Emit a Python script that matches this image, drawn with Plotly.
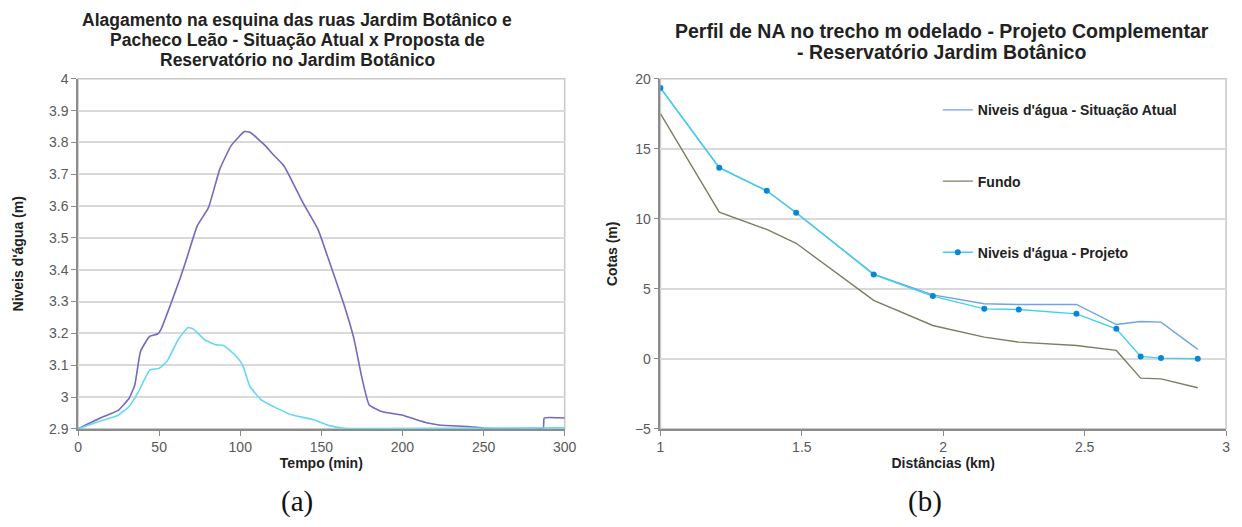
import plotly.graph_objects as go

# ---- Chart (a) data ----
t_atual = [0, 15, 24.5, 31.5, 35, 38.5, 44, 49, 51, 57, 63, 67.6, 73.4, 80.4, 87.4, 94.4,
           102.6, 106, 115.4, 121, 127, 138.7, 148, 153.8, 164, 170, 175, 179.5, 187.6,
           199, 206, 215.6, 222.6, 246, 250, 286.7, 287.4, 300]
v_atual = [2.9, 2.937, 2.957, 2.996, 3.038, 3.143, 3.19, 3.198, 3.211, 3.29, 3.374, 3.445,
           3.537, 3.595, 3.716, 3.79, 3.834, 3.832, 3.79, 3.758, 3.726, 3.61, 3.526, 3.442,
           3.29, 3.185, 3.06, 2.975, 2.954, 2.944, 2.933, 2.918, 2.912, 2.905, 2.902,
           2.902, 2.934, 2.934]
t_proposta = [0, 12.8, 24.5, 31.5, 37.3, 44.3, 50, 54.8, 61.7, 67.6, 71, 78, 85, 89.7, 96.7,
              101.4, 106, 113, 122.4, 131.7, 145.7, 155, 164, 180, 300]
v_proposta = [2.9, 2.923, 2.942, 2.97, 3.017, 3.085, 3.09, 3.112, 3.18, 3.218, 3.214, 3.18,
              3.164, 3.162, 3.132, 3.101, 3.033, 2.991, 2.965, 2.944, 2.928, 2.91, 2.902,
              2.901, 2.903]

# ---- Chart (b) data ----
dist_km = [1.0, 1.208, 1.376, 1.48, 1.754, 1.963, 2.145, 2.267, 2.471, 2.612, 2.698, 2.77, 2.9]
na_atual = [19.34, 13.65, 12.0, 10.43, 6.05, 4.57, 3.93, 3.88, 3.88, 2.45, 2.67, 2.62, 0.67]
fundo = [17.52, 10.47, 9.24, 8.25, 4.17, 2.38, 1.55, 1.19, 0.95, 0.6, -1.38, -1.43, -2.07]
na_projeto = [19.34, 13.65, 12.0, 10.43, 6.02, 4.48, 3.57, 3.52, 3.21, 2.14, 0.17, 0.05, 0.0]

title_a = ["Alagamento na esquina das ruas Jardim Botânico e",
           "Pacheco Leão - Situação Atual x Proposta de",
           "Reservatório no Jardim Botânico"]
title_b = ["Perfil de NA no trecho m odelado - Projeto Complementar",
           "- Reservatório Jardim Botânico"]

FONT = "Liberation Sans"
TICKC = "#595959"
GRID = "#d9d9d9"
AXC = "#8c8c8c"
W, H = 1242, 527

fig = go.Figure()

fig.add_trace(go.Scatter(x=t_atual, y=v_atual, mode="lines", line=dict(color="#7468bf", width=1.6,
              shape="spline", smoothing=0.4), xaxis="x", yaxis="y", showlegend=False))
fig.add_trace(go.Scatter(x=t_proposta, y=v_proposta, mode="lines", line=dict(color="#63d8f2", width=1.6,
              shape="spline", smoothing=0.4), xaxis="x", yaxis="y", showlegend=False))

fig.add_trace(go.Scatter(x=dist_km, y=na_atual, mode="lines", name="Niveis d'água - Situação Atual",
              line=dict(color="#73a2e0", width=1.4), xaxis="x2", yaxis="y2", legendgroup="a"))
fig.add_trace(go.Scatter(x=dist_km, y=fundo, mode="lines", name="Fundo",
              line=dict(color="#7d7d62", width=1.4), xaxis="x2", yaxis="y2", legendgroup="b"))
fig.add_trace(go.Scatter(x=dist_km, y=na_projeto, mode="lines+markers", name="Niveis d'água - Projeto",
              line=dict(color="#3fd0f0", width=1.4), marker=dict(color="#0a86d6", size=6),
              xaxis="x2", yaxis="y2", legendgroup="c"))

axcommon = dict(showline=True, linecolor=AXC, linewidth=1.5, ticks="outside", tickcolor=AXC,
                ticklen=5, tickfont=dict(family=FONT, size=14, color=TICKC), mirror=False,
                zeroline=False)
ttl = dict(family=FONT, size=14, color="#222")

ydom = [1 - 434 / H, 1 - 73 / H]
fig.update_layout(
    width=W, height=H,
    margin=dict(l=0, r=0, t=0, b=0),
    paper_bgcolor="white", plot_bgcolor="white",
    font=dict(family=FONT),
    xaxis=dict(domain=[75 / W, 568 / W], range=[0, 300], dtick=50, showgrid=False,
               title=dict(text="<b>Tempo (min)</b>", font=ttl, standoff=2),
               anchor="y", **axcommon),
    yaxis=dict(domain=ydom, range=[2.9, 4.0], dtick=0.1, showgrid=True, gridcolor=GRID,
               gridwidth=1.5, tickformat="~g",
               title=dict(text="<b>Niveis d'água (m)</b>", font=ttl, standoff=22),
               anchor="x", **axcommon),
    xaxis2=dict(domain=[665 / W, 1238 / W], range=[1, 3], dtick=0.5, showgrid=False,
                title=dict(text="<b>Distâncias (km)</b>", font=ttl, standoff=2),
                anchor="y2", tickformat="~g", **axcommon),
    yaxis2=dict(domain=ydom, range=[-5, 20], dtick=5, showgrid=True, gridcolor=GRID,
                gridwidth=1.5,
                title=dict(text="<b>Cotas (m)</b>", font=ttl, standoff=14),
                anchor="x2", **axcommon),
    legend=dict(x=946 / W, y=1 - 89 / H, xanchor="left", yanchor="top", bgcolor="rgba(0,0,0,0)",
                font=dict(family=FONT, size=14, color="#222", weight="bold"), tracegroupgap=50,
                itemwidth=30),
    showlegend=True,
)

# plot frames (top/right borders)
for xr, yr in [("x domain", "y domain"), ("x2 domain", "y2 domain")]:
    fig.add_shape(type="rect", xref=xr, yref=yr, x0=0, x1=1, y0=0, y1=1,
                  line=dict(color="#c8c8c8", width=1.5), layer="below")

for line, yc in zip(title_a, [12, 33, 54]):
    fig.add_annotation(x=297 / W, y=1 - yc / H, xref="paper", yref="paper", showarrow=False,
                       xanchor="center", yanchor="middle", text="<b>" + line + "</b>",
                       font=dict(family=FONT, size=17.5, color="#222"))
for line, yc in zip(title_b, [24, 45]):
    fig.add_annotation(x=950 / W, y=1 - yc / H, xref="paper", yref="paper", showarrow=False,
                       xanchor="center", yanchor="middle", text="<b>" + line + "</b>",
                       font=dict(family=FONT, size=19.5, color="#222"))

fig.add_annotation(x=297 / W, y=1 - 509 / H, xref="paper", yref="paper", showarrow=False,
                   xanchor="center", yanchor="middle",
                   text="(a)", font=dict(family="Liberation Serif", size=29, color="#111"))
fig.add_annotation(x=933 / W, y=1 - 509 / H, xref="paper", yref="paper", showarrow=False,
                   xanchor="center", yanchor="middle",
                   text="(b)", font=dict(family="Liberation Serif", size=29, color="#111"))

fig.write_html("out.html")
